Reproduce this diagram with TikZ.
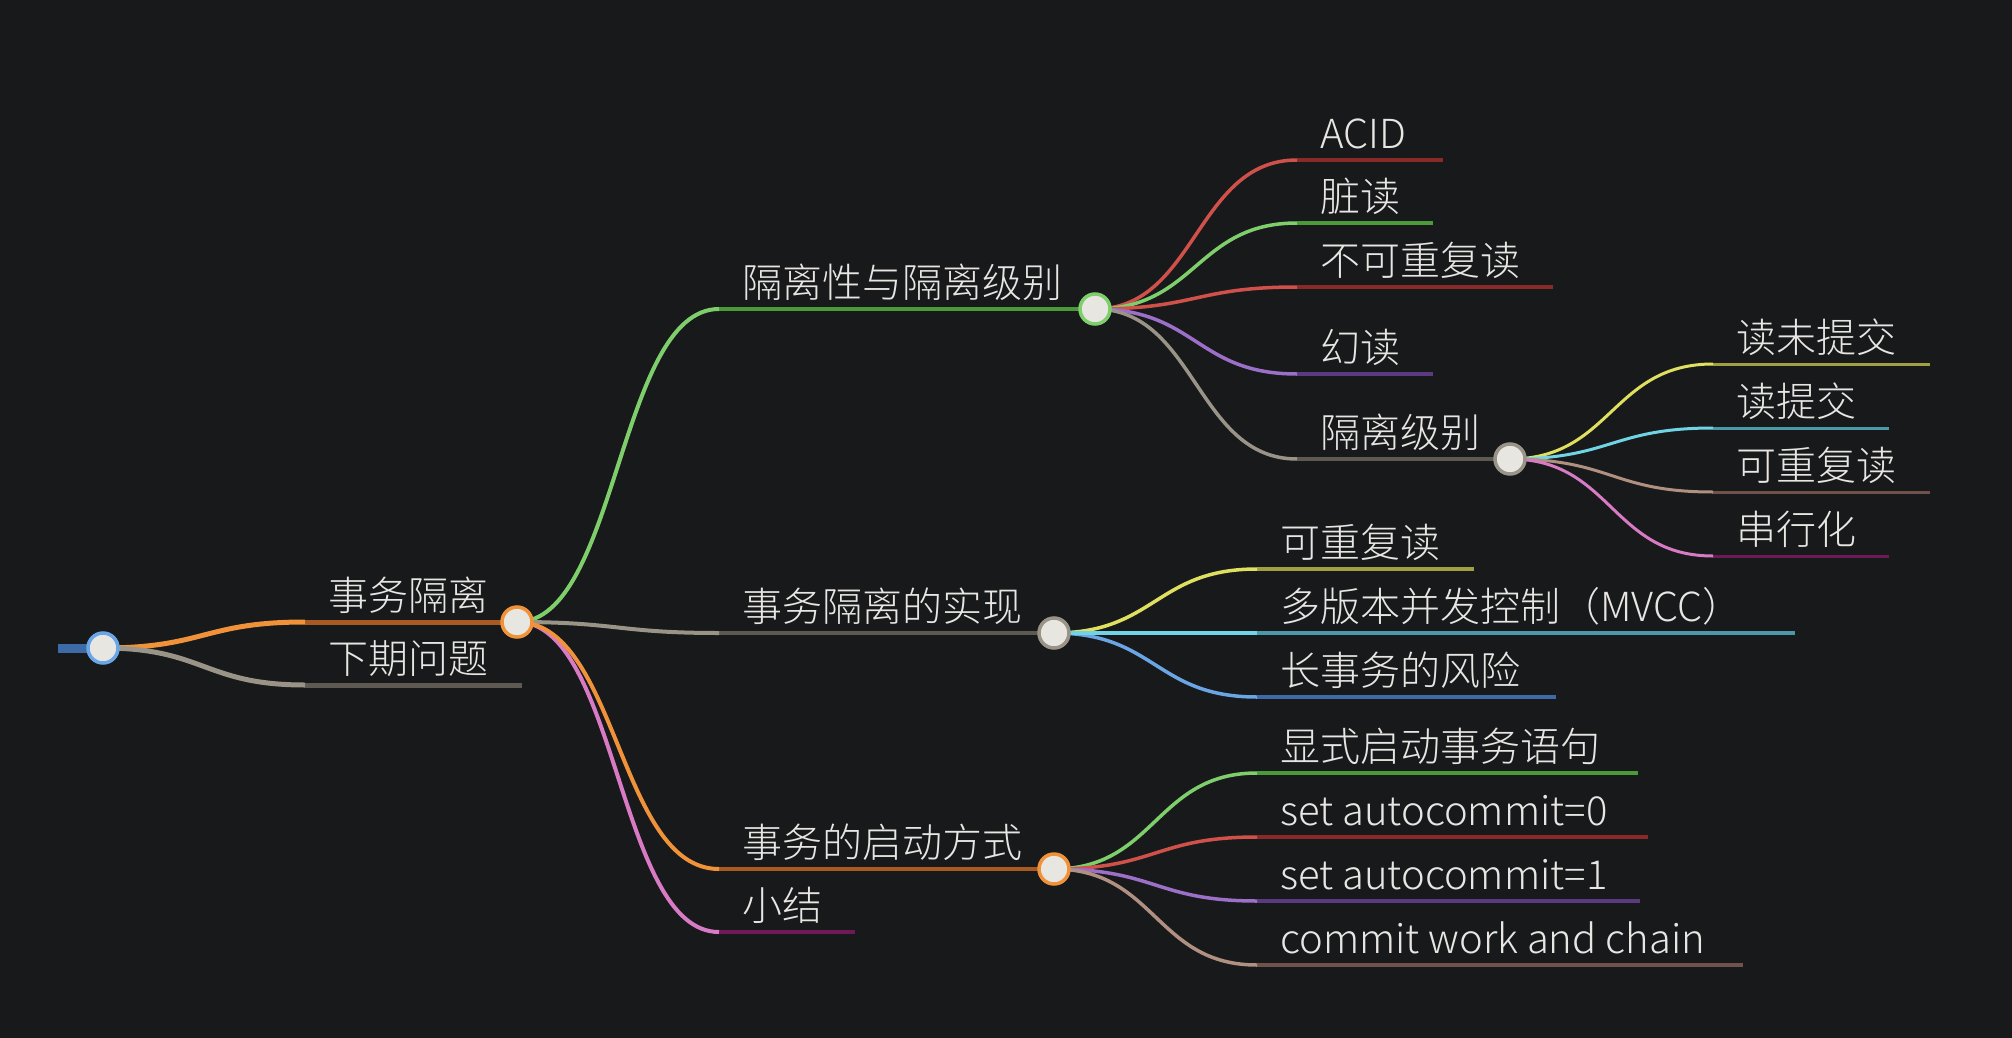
\documentclass[tikz,border=0pt]{standalone}
\usepackage{fontspec}
\IfFontExistsTF{Noto Sans CJK SC Light}{\setmainfont{Noto Sans CJK SC Light}}{\setmainfont{Noto Sans CJK SC}}
\usetikzlibrary{calc}
\definecolor{bg}{HTML}{18191B}
\definecolor{txt}{HTML}{E8E6E3}
\definecolor{dotfill}{HTML}{E8E6E1}
\definecolor{orgC}{HTML}{F0923A}\definecolor{orgL}{HTML}{A85A22}
\definecolor{gryC}{HTML}{9A9488}\definecolor{gryL}{HTML}{5E5A52}
\definecolor{grnC}{HTML}{7ECF6C}\definecolor{grnL}{HTML}{4A9A3A}
\definecolor{redC}{HTML}{D0514A}\definecolor{redL}{HTML}{8A2A28}
\definecolor{purC}{HTML}{9C70C8}\definecolor{purL}{HTML}{5A3A80}
\definecolor{yelC}{HTML}{E0E060}\definecolor{yelL}{HTML}{A0A040}
\definecolor{cyaC}{HTML}{70D4E6}\definecolor{cyaL}{HTML}{4A98A8}
\definecolor{bluC}{HTML}{6AA6E6}\definecolor{bluL}{HTML}{3D6BA8}
\definecolor{tanC}{HTML}{B09080}\definecolor{tanL}{HTML}{70524A}
\definecolor{pnkC}{HTML}{D87AC4}\definecolor{pnkL}{HTML}{6E1A58}
% #1 name, #2 parent point, #3 x start, #4 y, #5 x end, #6 colour prefix, #7 width, #8 text
\newcommand\mmitem[8]{%
  \coordinate (#1-s) at (#3,#4);
  \coordinate (#1-e) at (#5,#4);
  \draw[line width=#7, color=#6L] (#1-s) -- (#1-e);
  \draw[line width=#7, color=#6C] (#2) .. controls ($(#2)!0.5!(#2 -| #1-s)$) and ($(#1-s)!0.5!(#1-s -| #2)$) .. (#1-s);
  \node[lbl] (#1) at ([xshift=23pt, yshift=12pt]#1-s) {#8};
}
\begin{document}
\begin{tikzpicture}[x=1pt, y=-1pt,
  lbl/.style={anchor=base west, inner sep=0pt, text=txt, font=\fontsize{40}{48}\selectfont},
  dot/.style={circle, fill=dotfill, draw=#1, line width=3.5pt, minimum size=30pt, inner sep=0pt}]
\path[fill=bg, use as bounding box] (0,0) rectangle (2012,1038);

\coordinate (root-c) at (103,648);
\coordinate (rootbar) at (58,648);
\draw[line width=9pt, color=bluL] (rootbar) -- (root-c);

% level 1
\mmitem{a}{root-c}{305}{622}{517}{org}{5pt}{事务隔离}
\mmitem{b}{root-c}{305}{685}{522}{gry}{5pt}{下期问题}

% level 2
\mmitem{a1}{a-e}{719}{309}{1095}{grn}{4pt}{隔离性与隔离级别}
\mmitem{a2}{a-e}{719}{633}{1054}{gry}{4pt}{事务隔离的实现}
\mmitem{a4}{a-e}{719}{932}{855}{pnk}{4pt}{小结}
\mmitem{a3}{a-e}{719}{869}{1054}{org}{4pt}{事务的启动方式}

% level 3 under a1
\mmitem{a11}{a1-e}{1297}{160}{1443}{red}{3.5pt}{ACID}
\mmitem{a12}{a1-e}{1297}{223}{1433}{grn}{3.5pt}{脏读}
\mmitem{a13}{a1-e}{1297}{287}{1553}{red}{3.5pt}{不可重复读}
\mmitem{a14}{a1-e}{1297}{374}{1433}{pur}{3.5pt}{幻读}
\mmitem{a15}{a1-e}{1297}{459}{1510}{gry}{3.5pt}{隔离级别}

% level 4 under a15
\mmitem{a151}{a15-e}{1713}{364}{1930}{yel}{3pt}{读未提交}
\mmitem{a152}{a15-e}{1713}{428}{1889}{cya}{3pt}{读提交}
\mmitem{a153}{a15-e}{1713}{492}{1930}{tan}{3pt}{可重复读}
\mmitem{a154}{a15-e}{1713}{556}{1889}{pnk}{3pt}{串行化}

% level 3 under a2
\mmitem{a21}{a2-e}{1257}{569}{1474}{yel}{3.5pt}{可重复读}
\mmitem{a23}{a2-e}{1257}{697}{1556}{blu}{3.5pt}{长事务的风险}
\mmitem{a22}{a2-e}{1257}{633}{1795}{cya}{3.5pt}{多版本并发控制（MVCC）}

% level 3 under a3
\mmitem{a31}{a3-e}{1257}{773}{1638}{grn}{3.5pt}{显式启动事务语句}
\mmitem{a32}{a3-e}{1257}{837}{1648}{red}{3.5pt}{set autocommit=0}
\mmitem{a33}{a3-e}{1257}{901}{1640}{pur}{3.5pt}{set autocommit=1}
\mmitem{a34}{a3-e}{1257}{965}{1743}{tan}{3.5pt}{commit work and chain}

% circles
\node[dot=bluC] (root) at (root-c) {};
\node[dot=orgC] (a-dot) at (a-e) {};
\node[dot=grnC] (a1-dot) at (a1-e) {};
\node[dot=gryC] (a2-dot) at (a2-e) {};
\node[dot=orgC] (a3-dot) at (a3-e) {};
\node[dot=gryC] (a15-dot) at (a15-e) {};
\end{tikzpicture}
\end{document}
